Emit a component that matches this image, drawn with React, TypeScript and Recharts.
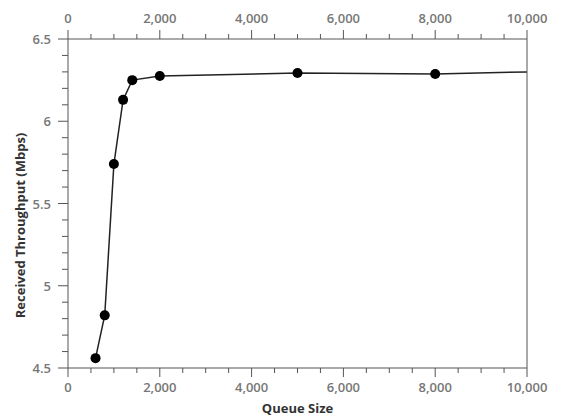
import React from "react";
import { LineChart, Line, XAxis, YAxis } from "recharts";

// queue size vs received throughput
const queueSizes = [600, 800, 1000, 1200, 1400, 2000, 5000, 8000, 10000];
const throughput = [4.56, 4.82, 5.74, 6.13, 6.25, 6.275, 6.293, 6.287, 6.3];

const xTicks = [
  0, 500, 1000, 1500, 2000, 2500, 3000, 3500, 4000, 4500, 5000, 5500, 6000,
  6500, 7000, 7500, 8000, 8500, 9000, 9500, 10000,
];
const yTicks = [
  4.5, 4.6, 4.7, 4.8, 4.9, 5, 5.1, 5.2, 5.3, 5.4, 5.5, 5.6, 5.7, 5.8, 5.9, 6,
  6.1, 6.2, 6.3, 6.4, 6.5,
];

const data = queueSizes.map((q, i) => ({ q, mbps: throughput[i] }));

const FONT = "'Open Sans', 'Noto Sans', sans-serif";
const AXIS = "#555";
const TICK_TEXT = "#777";

const XTick = ({ x, y, payload, side }: any) => {
  const v = payload.value;
  const major = v % 2000 === 0;
  const sign = side === "top" ? -1 : 1;
  const len = major ? 9 : 5;
  return (
    <g>
      <line x1={x} x2={x} y1={y} y2={y + sign * len} stroke={AXIS} />
      {major && (
        <text
          x={x}
          y={side === "top" ? y - 16 : y + 24}
          textAnchor="middle"
          fill={TICK_TEXT}
          fontSize={13}
          fontWeight={600}
          fontFamily={FONT}
        >
          {v.toLocaleString("en-US")}
        </text>
      )}
    </g>
  );
};

const YTick = ({ x, y, payload, side }: any) => {
  const v = payload.value;
  const major = Math.abs(v * 2 - Math.round(v * 2)) < 1e-6;
  const sign = side === "left" ? -1 : 1;
  const len = major ? 10 : 6;
  return (
    <g>
      <line x1={x} x2={x + sign * len} y1={y} y2={y} stroke={AXIS} />
      {major && (
        <text
          x={x + sign * (len + (side === "left" ? 7 : 4))}
          y={y}
          dy={5}
          textAnchor={side === "left" ? "end" : "start"}
          fill={TICK_TEXT}
          fontSize={13}
          fontWeight={600}
          fontFamily={FONT}
        >
          {String(v)}
        </text>
      )}
    </g>
  );
};

const lastIdx = data.length - 1;

const renderDot = (p: any) => {
  if (p.index === lastIdx) return <g key={`d-${p.index}`} />;
  return <circle key={`d-${p.index}`} cx={p.cx} cy={p.cy} r={5} fill="#000" />;
};

const App = () => {
  return (
    <div style={{ position: "absolute", left: 0, top: 0, background: "#fff" }}>
      <LineChart
        width={568}
        height={418}
        data={data}
        margin={{ top: 0, right: 0, bottom: 0, left: 0 }}
      >
        <XAxis
          xAxisId="bottom"
          dataKey="q"
          type="number"
          domain={[0, 10000]}
          ticks={xTicks}
          interval={0}
          orientation="bottom"
          height={50}
          tickSize={0}
          tickMargin={0}
          tickLine={false}
          axisLine={{ stroke: AXIS }}
          tick={(p: any) => <XTick {...p} side="bottom" />}
          label={{
            value: "Queue Size",
            position: "center",
            dy: 15,
            fill: "#333",
            fontSize: 13,
            fontWeight: 700,
            fontFamily: FONT,
          }}
        />
        <XAxis
          xAxisId="top"
          dataKey="q"
          type="number"
          domain={[0, 10000]}
          ticks={xTicks}
          interval={0}
          orientation="top"
          height={39}
          tickSize={0}
          tickMargin={0}
          tickLine={false}
          axisLine={{ stroke: AXIS }}
          tick={(p: any) => <XTick {...p} side="top" />}
        />
        <YAxis
          yAxisId="left"
          type="number"
          domain={[4.5, 6.5]}
          ticks={yTicks}
          interval={0}
          orientation="left"
          width={68}
          tickSize={0}
          tickMargin={0}
          tickLine={false}
          axisLine={{ stroke: AXIS }}
          tick={(p: any) => <YTick {...p} side="left" />}
          label={{
            value: "Received Throughput (Mbps)",
            angle: -90,
            position: "center",
            dx: -14,
            dy: 22,
            fill: "#333",
            fontSize: 13,
            fontWeight: 700,
            fontFamily: FONT,
          }}
        />
        <YAxis
          yAxisId="right"
          type="number"
          domain={[4.5, 6.5]}
          ticks={yTicks}
          interval={0}
          orientation="right"
          width={41}
          tickSize={0}
          tickMargin={0}
          tickLine={false}
          axisLine={{ stroke: AXIS }}
          tick={(p: any) => <YTick {...p} side="right" />}
        />
        <Line
          xAxisId="bottom"
          yAxisId="left"
          type="linear"
          dataKey="mbps"
          stroke="#222"
          strokeWidth={1.5}
          dot={renderDot}
          activeDot={false}
          isAnimationActive={false}
        />
      </LineChart>
    </div>
  );
};

export default App;
